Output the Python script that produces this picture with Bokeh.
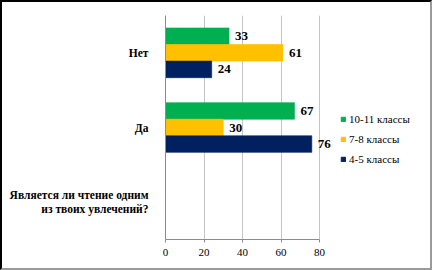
from bokeh.plotting import figure
from bokeh.models import FactorRange, Range1d, ColumnDataSource, Legend, LegendItem, FixedTicker, LabelSet
from bokeh.transform import dodge
from bokeh.embed import file_html
from bokeh.resources import INLINE

axis_factors = ["Является ли чтение одним\nиз твоих увлечений?", "Да", "Нет"]
groups = ["Нет", "Да"]
series_names = ["10-11 классы", "7-8 классы", "4-5 классы"]
v_10_11 = [33, 67]
v_7_8 = [61, 30]
v_4_5 = [24, 76]
x_ticks = [0, 20, 40, 60, 80]

colors = ["#00B050", "#FFC000", "#002060"]
offsets = [0.222, 0.0, -0.222]
series_values = [v_10_11, v_7_8, v_4_5]

# frame spans 0..80 over 154px; extend the frame to the right so labels/legend are not clipped
frame_w = 260
x_end = 80 * frame_w / 154.0
W, H = 432, 270  # the 2px CSS border shifts the canvas by 2px

p = figure(width=W, height=H, y_range=FactorRange(factors=axis_factors),
           x_range=Range1d(0, x_end), output_backend="svg", toolbar_location=None,
           min_border_left=163, min_border_right=W - 163 - frame_w,
           min_border_top=13, min_border_bottom=33)
p.outline_line_color = None
p.background_fill_color = "white"
p.border_fill_color = "white"
p.styles = {"border-left": "2px solid black", "border-top": "2px solid black",
            "border-right": "2px solid #9a9a9a", "border-bottom": "2px solid #9a9a9a"}

serif = "Liberation Serif"
items = []
for name, vals, col, off in zip(series_names, series_values, colors, offsets):
    src = ColumnDataSource(dict(y=groups, x=vals, lab=[str(v) for v in vals]))
    r = p.hbar(y=dodge("y", off, range=p.y_range), right="x", left=0, height=0.222,
               source=src, fill_color=col, line_color=col, line_width=0.6)
    items.append(LegendItem(label=name, renderers=[r]))
    labels = LabelSet(x="x", y=dodge("y", off, range=p.y_range), text="lab", source=src,
                      x_offset=6, text_align="left", text_baseline="middle",
                      text_font=serif, text_font_style="bold", text_font_size="13px",
                      text_color="black")
    p.add_layout(labels)

legend = Legend(items=items, location=(175, 70), orientation="vertical")
legend.border_line_color = None
legend.background_fill_alpha = 0
legend.label_text_font = serif
legend.label_text_font_size = "11px"
legend.label_text_color = "black"
legend.glyph_width = 6
legend.glyph_height = 6
legend.label_standoff = 3
legend.label_height = 20
legend.spacing = 0
legend.padding = 0
legend.margin = 0
p.add_layout(legend, "center")

p.xaxis.ticker = FixedTicker(ticks=x_ticks)
p.xaxis.bounds = (0, 80)
p.xaxis.axis_line_color = "#8c8c8c"
p.xaxis.major_tick_line_color = "#8c8c8c"
p.xaxis.major_tick_out = 3
p.xaxis.major_tick_in = 0
p.xaxis.minor_tick_line_color = None
p.xaxis.major_label_text_font = serif
p.xaxis.major_label_text_font_size = "11px"
p.xaxis.major_label_text_color = "black"
p.xaxis.major_label_standoff = 6

p.yaxis.axis_line_color = "#8c8c8c"
p.yaxis.major_tick_line_color = None
p.yaxis.major_label_text_font = serif
p.yaxis.major_label_text_font_size = "11.5px"
p.yaxis.major_label_text_font_style = "bold"
p.yaxis.major_label_text_color = "black"
p.yaxis.major_label_standoff = 11

p.xgrid.grid_line_color = "#c4c4c4"
p.ygrid.grid_line_color = None

open("out.html", "w").write(file_html(p, INLINE))
